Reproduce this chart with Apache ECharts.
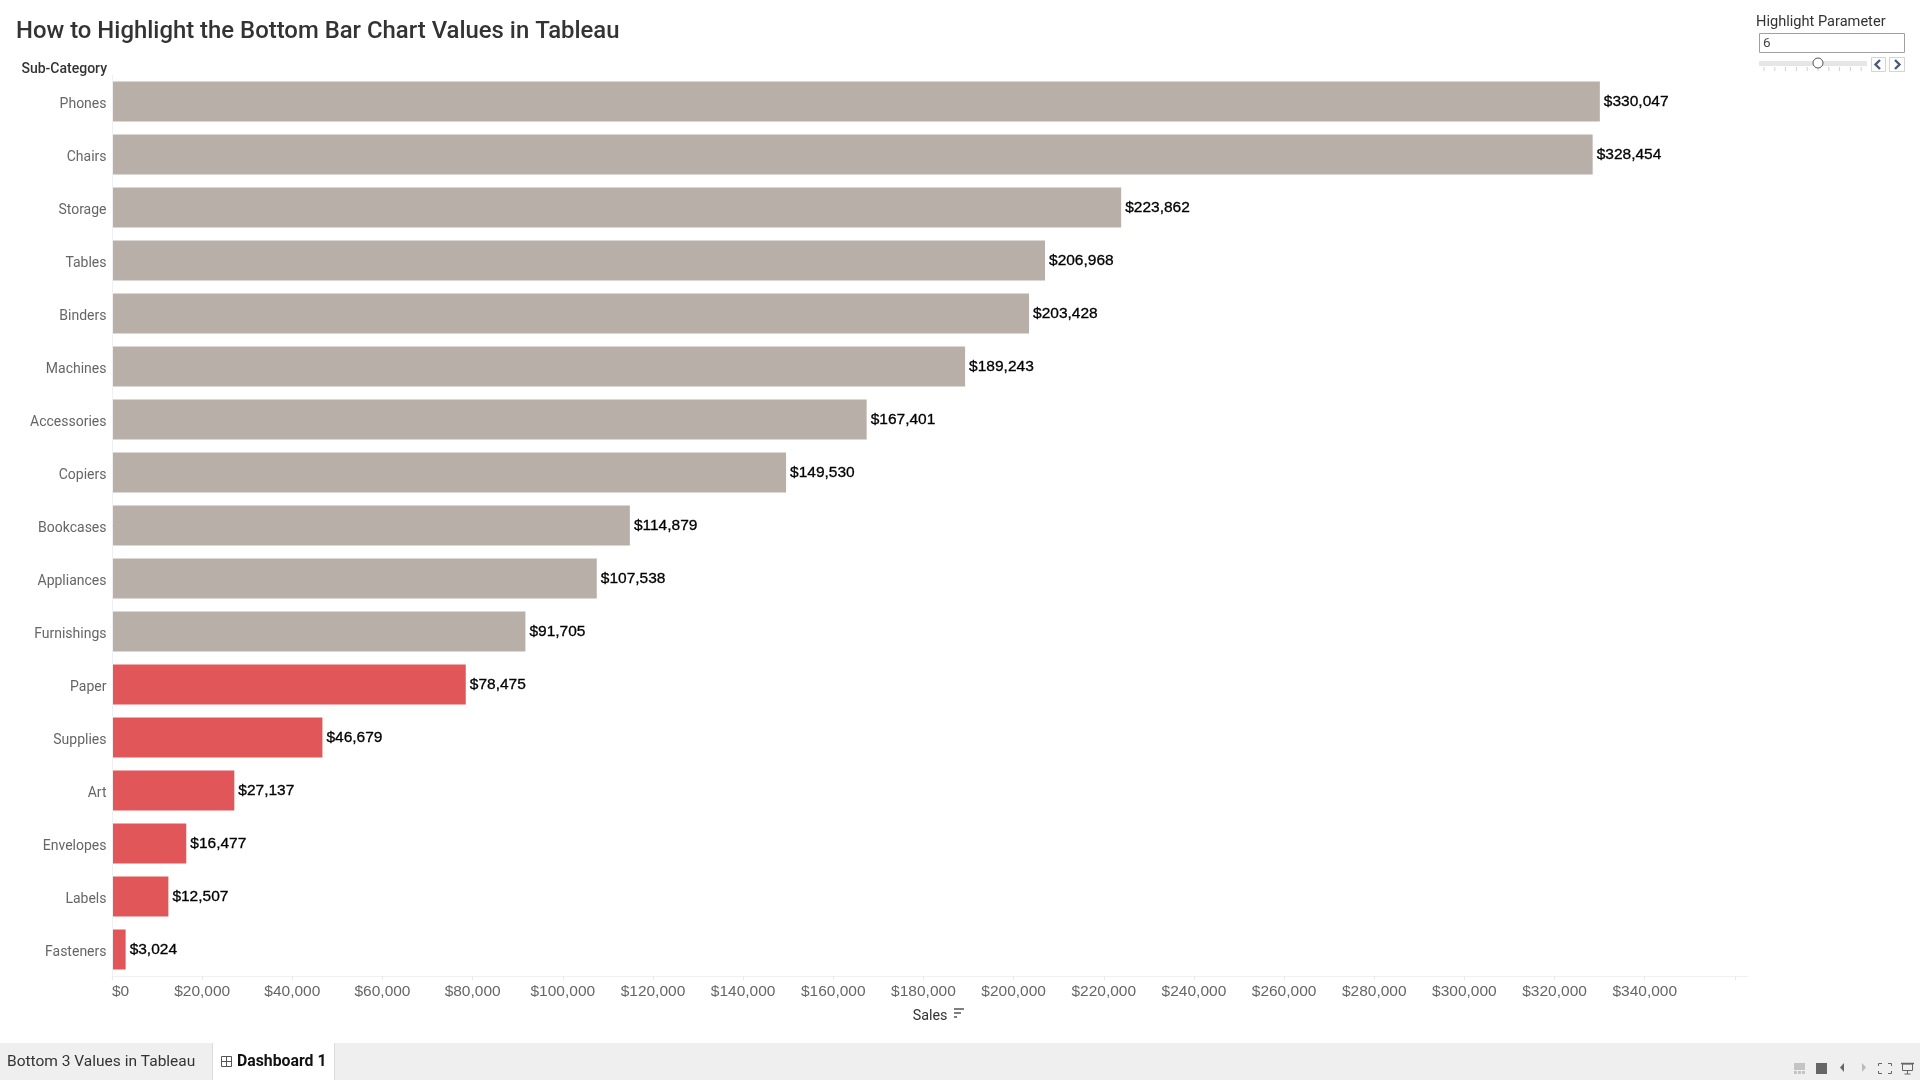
<!DOCTYPE html>
<html><head><meta charset="utf-8">
<style>html,body{margin:0;padding:0;background:#fff}#c{width:1920px;height:1080px}</style>
<script src="https://cdn.jsdelivr.net/npm/echarts@6/dist/echarts.min.js"></script>
</head><body><div id="c"></div>
<script>
const categories = ['Phones','Chairs','Storage','Tables','Binders','Machines','Accessories','Copiers','Bookcases','Appliances','Furnishings','Paper','Supplies','Art','Envelopes','Labels','Fasteners'];
const sales = [330047,328454,223862,206968,203428,189243,167401,149530,114879,107538,91705,78475,46679,27137,16477,12507,3024];
const highlightParameter = 6;
const chartTitle = 'How to Highlight the Bottom Bar Chart Values in Tableau';
const baseColor = '#B9AFA9', highlightColor = '#E15759';
const labelFont = '"Liberation Sans"', textFont = 'Roboto';
const fmt = v => '$' + v.toLocaleString('en-US');
const rect = (x,y,w,h,fill,stroke) => ({type:'rect',shape:{x,y,width:w,height:h},style:{fill:fill||'none',stroke:stroke||null,lineWidth:1},silent:true});
const txt = (x,y,t,size,color,weight,font) => ({type:'text',x,y,style:{text:t,fontSize:size,fill:color,fontWeight:weight||'normal',fontFamily:font||textFont,verticalAlign:'middle',align:'left'},silent:true});
const line = (x1,y1,x2,y2,c,w) => ({type:'line',shape:{x1,y1,x2,y2},style:{stroke:c,lineWidth:w||1},silent:true});
const poly = (pts,c,w) => ({type:'polyline',shape:{points:pts},style:{stroke:c,lineWidth:w||1,fill:'none'},silent:true});
const tri = (pts,c) => ({type:'polygon',shape:{points:pts},style:{fill:c},silent:true});
const sliderTicks = [];
for (let i=0;i<=9;i++){ const x=1764+i*10.8; sliderTicks.push(line(x,67,x,71,'#cfcfcf')); }
const chrome = [
  txt(16,32.5,chartTitle,23.9,'#333','500'),
  // Parameter control
  txt(1756,22,'Highlight Parameter',14.6,'#333'),
  rect(1759.5,33.5,145,19,'#fff','#a0a0a0'),
  txt(1763,44,'6',13.5,'#444'),
  rect(1759,61,108,5,'#e6e6e6'),
  ...sliderTicks,
  {type:'circle',shape:{cx:1818,cy:63,r:5},style:{fill:'#fff',stroke:'#555',lineWidth:1},silent:true},
  rect(1871.5,57.5,14,14,'#fff','#d4d4d4'),
  rect(1889.5,57.5,15,14,'#fff','#d4d4d4'),
  poly([[1880,60],[1875.5,64.5],[1880,69]],'#4a5a78',2.4),
  poly([[1895,60],[1899.5,64.5],[1895,69]],'#4a5a78',2.4),
  // Sales sort icon
  line(954,1009,964,1009,'#555',1.5),
  line(954,1013,961,1013,'#555',1.5),
  line(954,1017,957,1017,'#555',1.5),
  // Tab strip
  rect(0,1043,1920,37,'#efefef'),
  rect(213,1043,121,37,'#fff'),
  line(212.5,1043,212.5,1080,'#dcdcdc'),
  line(334.5,1043,334.5,1080,'#dcdcdc'),
  rect(221.5,1056.5,10,10,null,'#555'),
  line(226.5,1056,226.5,1067,'#555'),
  line(221,1061.5,232,1061.5,'#555'),
  txt(7,1062.5,'Bottom 3 Values in Tableau',15.5,'#333'),
  txt(237,1062,'Dashboard 1',15.8,'#111','bold'),
  // Status icons
  rect(1794,1063,11,7,'#c4c4c4'),
  rect(1794,1071,3,3,'#c4c4c4'), rect(1798,1071,3,3,'#c4c4c4'), rect(1802,1071,3,3,'#c4c4c4'),
  rect(1816,1063,11,11,'#666'),
  tri([[1844,1063],[1844,1072],[1840,1067.5]],'#666'),
  tri([[1862,1063],[1862,1072],[1866,1067.5]],'#bbb'),
  poly([[1878.5,1066],[1878.5,1063.5],[1882,1063.5]],'#666'),
  poly([[1888,1063.5],[1891.5,1063.5],[1891.5,1066]],'#666'),
  poly([[1878.5,1071],[1878.5,1073.5],[1882,1073.5]],'#666'),
  poly([[1888,1073.5],[1891.5,1073.5],[1891.5,1071]],'#666'),
  line(1901,1063.5,1914,1063.5,'#666',1.5),
  rect(1902.5,1064,10,6.5,null,'#666'),
  line(1907.5,1071,1907.5,1074,'#666'),
  line(1904.5,1074,1910.5,1074,'#666'),
];
const chart = echarts.init(document.getElementById('c'), null, {renderer:'canvas'});
chart.setOption({
  animation:false,
  backgroundColor:'#fff',
  grid:{left:112,top:75,width:1636,height:901,containLabel:false},
  xAxis:{
    type:'value',min:0,max:362910,interval:20000,
    name:'Sales',nameLocation:'middle',nameGap:33,
    nameTextStyle:{fontFamily:textFont,fontSize:14.3,color:'#333'},
    axisLine:{show:true,lineStyle:{color:'#f0f0f0',width:1}},
    axisTick:{show:true,length:4,lineStyle:{color:'#e8e8e8'}},
    splitLine:{show:false},
    axisLabel:{fontFamily:labelFont,fontSize:15.5,color:'#666',margin:8,alignMinLabel:'left',showMaxLabel:false,
      formatter:v=> v>340000 ? '' : fmt(v)}
  },
  yAxis:{
    type:'category',inverse:true,data:categories,z:5,
    name:'Sub-Category',nameLocation:'start',nameGap:-1,
    nameTextStyle:{fontFamily:textFont,fontSize:14,color:'#333',fontWeight:500,align:'right',verticalAlign:'bottom',padding:[0,5,0,0]},
    axisLine:{show:true,lineStyle:{color:'#f0f0f0',width:1}},
    axisTick:{show:false},
    splitLine:{show:false},
    axisLabel:{fontFamily:textFont,fontSize:14,color:'#666',margin:5.5,verticalAlign:'top',lineHeight:5}
  },
  series:[{
    type:'bar',barWidth:40,
    data:sales.map((v,i)=>({value:v,itemStyle:{color:i>=sales.length-highlightParameter?highlightColor:baseColor}})),
    label:{show:true,position:'right',distance:4,fontFamily:labelFont,fontSize:15.5,color:'#000',textBorderColor:'#000',textBorderWidth:0.3,padding:[4,0,0,0],formatter:p=>fmt(p.value)}
  }],
  graphic:{elements:chrome}
});
</script></body></html>
